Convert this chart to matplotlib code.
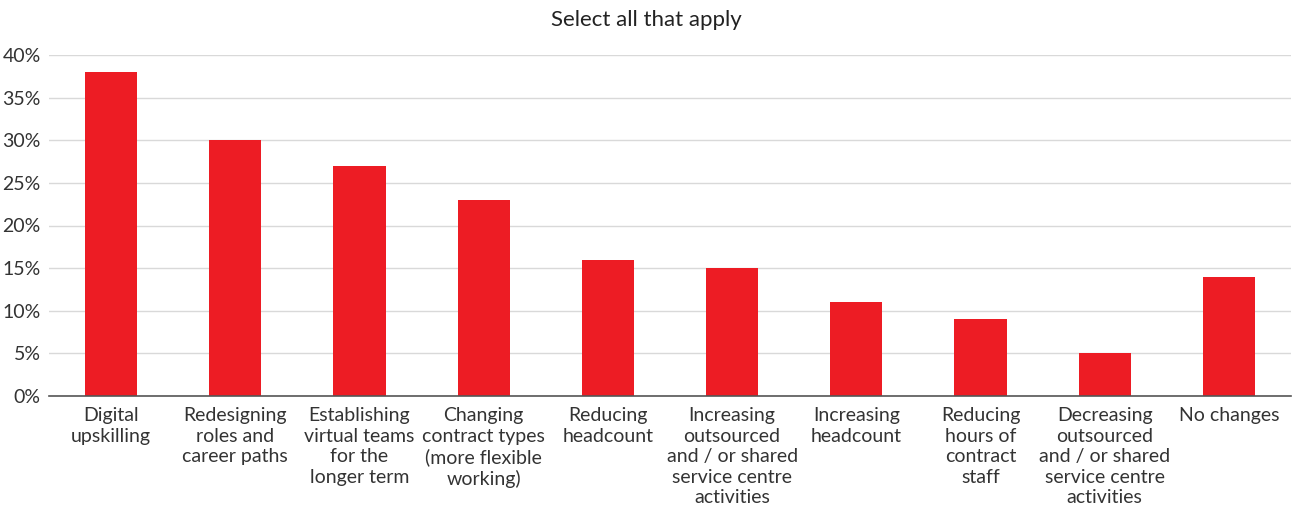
import matplotlib
matplotlib.use("Agg")
import matplotlib.pyplot as plt
from matplotlib.ticker import FuncFormatter

plt.rcParams['font.family'] = ['Lato', 'DejaVu Sans']

categories = [
    "Digital\nupskilling",
    "Redesigning\nroles and\ncareer paths",
    "Establishing\nvirtual teams\nfor the\nlonger term",
    "Changing\ncontract types\n(more flexible\nworking)",
    "Reducing\nheadcount",
    "Increasing\noutsourced\nand / or shared\nservice centre\nactivities",
    "Increasing\nheadcount",
    "Reducing\nhours of\ncontract\nstaff",
    "Decreasing\noutsourced\nand / or shared\nservice centre\nactivities",
    "No changes",
]
values = [38, 30, 27, 23, 16, 15, 11, 9, 5, 14]
yticks = [0, 5, 10, 15, 20, 25, 30, 35, 40]
title = "Select all that apply"

text_color = "#333333"
fig = plt.figure(figsize=(12.93, 5.08), dpi=100)
ax = fig.add_axes([49/1293, 112/508, (1291-49)/1293, (396-55)/508])

x = list(range(len(categories)))
ax.bar(x, values, width=0.42, color="#ED1C24", zorder=3)
ax.set_xlim(-0.5, len(categories) - 0.5)
ax.set_ylim(0, 40)
ax.set_yticks(yticks)
ax.yaxis.set_major_formatter(FuncFormatter(lambda v, p: f"{int(v)}%"))
ax.set_xticks(x)
ax.set_xticklabels(categories, fontsize=14, color=text_color, linespacing=1.25, va="top")
ax.tick_params(axis='x', length=0, pad=8)
ax.tick_params(axis='y', length=0, pad=6, labelsize=14, labelcolor=text_color)
ax.grid(axis='y', color="#d9d9d9", linewidth=1, zorder=0)
for s in ["top", "right", "left"]:
    ax.spines[s].set_visible(False)
ax.spines["bottom"].set_color("#555555")
ax.spines["bottom"].set_linewidth(1.2)
ax.spines["bottom"].set_zorder(4)

fig.text(0.5, 1 - 20/508, title, ha="center", va="center", fontsize=16, color="#222222")

fig.savefig("out.png", dpi=100)
